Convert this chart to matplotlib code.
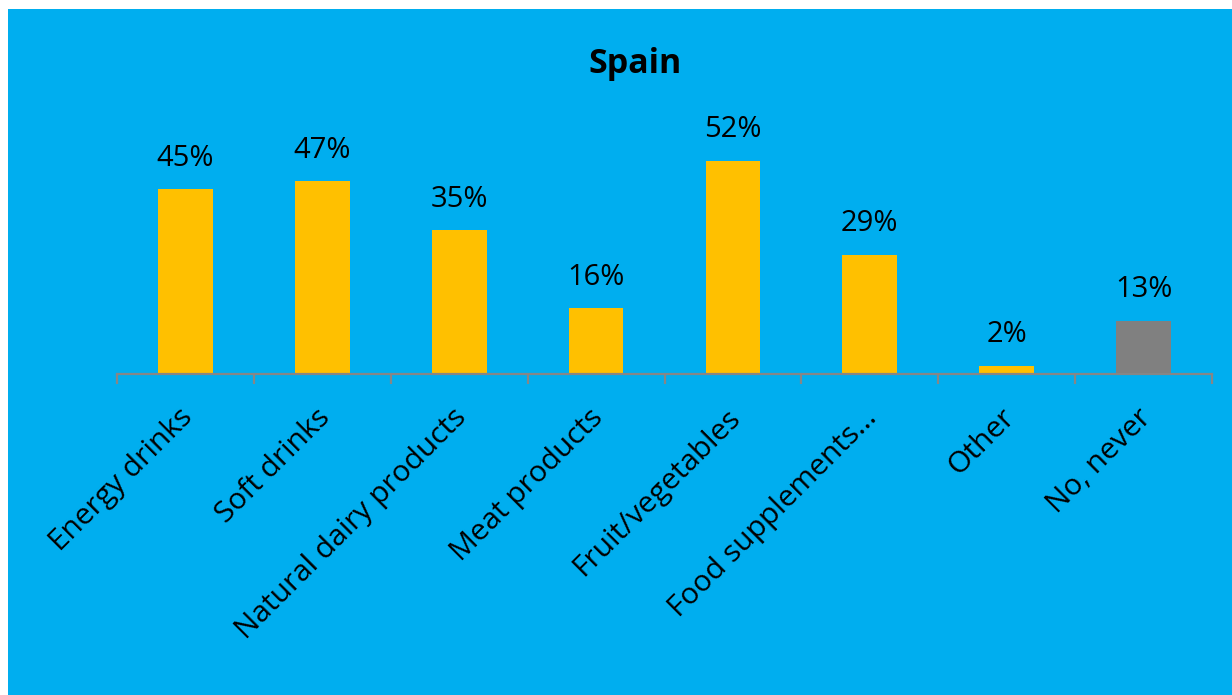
import numpy as np
import matplotlib.pyplot as plt
import matplotlib.transforms as mtransforms
from matplotlib.patches import Rectangle

categories = ['Energy drinks', 'Soft drinks', 'Natural dairy products', 'Meat products',
              'Fruit/vegetables', 'Food supplements…', 'Other', 'No, never']
values = [45, 47, 35, 16, 52, 29, 2, 13]
colors = ['#FFC000'] * 7 + ['#808080']

plt.rcParams['font.family'] = ['Open Sans', 'DejaVu Sans']

fig = plt.figure(figsize=(12.32, 6.95), dpi=100)
fig.patch.set_facecolor('white')
# blue chart background, offset a bit from the top/left edges
fig.patches.append(Rectangle((8 / 1232, 0), 1, 1 - 9 / 695, transform=fig.transFigure,
                             facecolor='#00AEEF', edgecolor='none', zorder=-5))

ax = fig.add_axes([117 / 1232, 1 - 374 / 695, (1212 - 117) / 1232, 0.354])
ax.set_facecolor('none')
ax.set_zorder(5)

x = np.arange(len(categories))
bars = ax.bar(x, values, width=0.4, color=colors, zorder=2)
for xi, v in zip(x, values):
    ax.annotate(f'{v}%', (xi, v), xytext=(0, 12), textcoords='offset points',
                ha='center', va='bottom', fontsize=21, color='black')

ax.set_xlim(-0.5, len(categories) - 0.5)
ax.set_ylim(0, 60)
ax.set_yticks([])
for s in ['left', 'right', 'top']:
    ax.spines[s].set_visible(False)
ax.spines['bottom'].set_color('#868686')
ax.spines['bottom'].set_linewidth(1.6)

ax.set_xticks(x)
ax.set_xticklabels(categories, rotation=45, ha='right', rotation_mode='anchor', fontsize=21.5)
ax.tick_params(axis='x', which='major', length=0, pad=21)
ax.set_xticks(np.arange(-0.5, len(categories)), minor=True)
ax.tick_params(axis='x', which='minor', length=7, width=1.6, color='#868686')

# nudge the slanted labels a little to the left
shift = mtransforms.ScaledTranslation(-7 / 100, 0, fig.dpi_scale_trans)
for lbl in ax.get_xticklabels():
    lbl.set_transform(lbl.get_transform() + shift)

fig.text(635 / 1232, 1 - 64 / 695, 'Spain', ha='center', va='center',
         fontsize=24.5, fontweight='bold', color='black', zorder=10)

fig.savefig('out.png', dpi=100)
